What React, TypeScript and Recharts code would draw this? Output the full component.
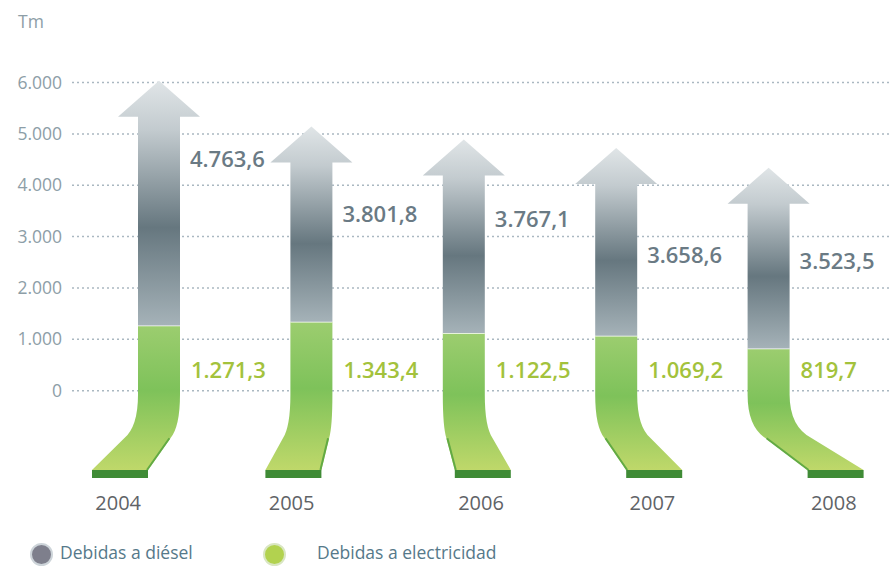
import { ComposedChart, Bar, XAxis, YAxis, CartesianGrid, LabelList } from "recharts";

const years = ["2004", "2005", "2006", "2007", "2008"];
const diesel = [4763.6, 3801.8, 3767.1, 3658.6, 3523.5];
const electricity = [1271.3, 1343.4, 1122.5, 1069.2, 819.7];
const yTicks = [0, 1000, 2000, 3000, 4000, 5000, 6000];
const yFloor = -1700;
const yCeil = 6400;

// decorative: how far each green tail bends away from its column (px)
const tailShift = [-39, -18, 19, 38, 67];
// decorative: nudges for the diesel value labels (px)
const dieselLabelNudge = [-32, 0, -8, 23, 12];

const data = years.map((year, i) => ({
  year,
  electricity: electricity[i],
  diesel: diesel[i],
}));

const FONT = "'Open Sans', sans-serif";

const fmt = (v: number, decimals = 0) => {
  const [int, dec] = v.toFixed(decimals).split(".");
  const dotted = int.replace(/\B(?=(\d{3})+(?!\d))/g, ".");
  return dec ? `${dotted},${dec}` : dotted;
};

function edgePath(edgeX: number, baseX: number, y0: number, yEnd: number) {
  const d = yEnd - y0;
  const dx = baseX - edgeX;
  return {
    p1: [edgeX, y0 + 0.05 * d],
    ctl: [edgeX, y0 + 0.45 * d],
    mid: [edgeX + 0.3 * dx, y0 + 0.6 * d],
    end: [baseX, yEnd],
  };
}

function ElectricityShape(props: any) {
  const { x, y, width, height, index } = props;
  const pxPerUnit = height / electricity[index];
  const y0 = y + height;
  const yBottom = y0 - yFloor * pxPerUnit;
  const strip = 8;
  const baseW = width + 14;
  const s = tailShift[index];
  const cx = x + width / 2 + s;
  const bl = cx - baseW / 2;
  const br = cx + baseW / 2;
  const yEnd = yBottom - strip;

  const R = edgePath(x + width, br, y0, yEnd);
  const L = edgePath(x, bl, y0, yEnd);
  const body =
    `M${x},${y} L${x + width},${y} L${R.p1[0]},${R.p1[1]} ` +
    `Q${R.ctl[0]},${R.ctl[1]} ${R.mid[0]},${R.mid[1]} L${R.end[0]},${R.end[1]} ` +
    `L${L.end[0]},${L.end[1]} L${L.mid[0]},${L.mid[1]} ` +
    `Q${L.ctl[0]},${L.ctl[1]} ${L.p1[0]},${L.p1[1]} Z`;
  const T = s < 0 ? R : L;
  const inset = s < 0 ? -1 : 1;
  const edge = `M${T.mid[0] + inset},${T.mid[1]} L${T.end[0] + inset},${T.end[1]}`;

  return (
    <g>
      <path d={body} fill="url(#elecFill)" />
      <path d={edge} fill="none" stroke="#62aa44" strokeWidth={2} />
      <rect x={bl} y={yEnd} width={baseW} height={strip} fill="#3f8b36" />
      <line x1={x} x2={x + width} y1={y} y2={y} stroke="#ffffff" strokeWidth={1.5} />
    </g>
  );
}

function DieselShape(props: any) {
  const { x, y, width, height } = props;
  const head = 36;
  const wing = 20;
  const cx = x + width / 2;
  const d =
    `M${cx},${y} L${x + width + wing},${y + head} L${x + width},${y + head} ` +
    `L${x + width},${y + height} L${x},${y + height} L${x},${y + head} L${x - wing},${y + head} Z`;
  return <path d={d} fill="url(#dieselFill)" />;
}

function DieselLabel(props: any) {
  const { x, y, width, height, value, index } = props;
  return (
    <text
      x={x + width + 10}
      y={y + height * 0.45 + dieselLabelNudge[index]}
      dy={8}
      fontSize={22}
      fontWeight={600}
      fill="#6a7a84"
      fontFamily={FONT}
    >
      {fmt(value, 1)}
    </text>
  );
}

function ElecLabel(props: any) {
  const { x, y, width, height, value } = props;
  return (
    <text x={x + width + 11} y={y + height - 21} dy={8} fontSize={22} fontWeight={600} fill="#a3c23c" fontFamily={FONT}>
      {fmt(value, 1)}
    </text>
  );
}

function YearTick(props: any) {
  const { x, y, payload, index } = props;
  return (
    <text x={x + tailShift[index] - 2} y={y + 24} textAnchor="middle" fontSize={20} fill="#5f6367" fontFamily={FONT}>
      {payload.value}
    </text>
  );
}

function ValueTick(props: any) {
  const { y, payload } = props;
  return (
    <text x={62} y={y} dy={6} textAnchor="end" fontSize={17.5} fill="#8d9ea7" fontFamily={FONT}>
      {fmt(payload.value)}
    </text>
  );
}

export default function App() {
  return (
    <div style={{ position: "absolute", left: 0, top: 0, width: 896, height: 567, background: "#fff", fontFamily: FONT }}>
      <div style={{ position: "absolute", left: 18, top: 9, fontSize: 17.5, color: "#8d9ea7" }}>Tm</div>
      <ComposedChart width={896} height={567} data={data} margin={{ top: 62, right: 6, bottom: 0, left: 0 }}>
        <defs>
          <linearGradient id="dieselFill" x1="0" y1="0" x2="0" y2="1">
            <stop offset="0%" stopColor="#e0e5e7" />
            <stop offset="20%" stopColor="#c3cbcf" />
            <stop offset="60%" stopColor="#66777f" />
            <stop offset="100%" stopColor="#a5b2b8" />
          </linearGradient>
          <linearGradient id="elecFill" x1="0" y1="0" x2="0" y2="1">
            <stop offset="0%" stopColor="#9ccd6f" />
            <stop offset="45%" stopColor="#7ec25a" />
            <stop offset="100%" stopColor="#bfd86a" />
          </linearGradient>
        </defs>
        <CartesianGrid
          vertical={false}
          horizontalValues={yTicks}
          stroke="#aab8c1"
          strokeWidth={1.5}
          strokeDasharray="2 3"
        />
        <XAxis
          dataKey="year"
          height={89}
          axisLine={false}
          tickLine={false}
          padding={{ left: 11, right: 45 }}
          tick={<YearTick />}
          interval={0}
        />
        <YAxis
          width={72}
          domain={[yFloor, yCeil]}
          ticks={yTicks}
          axisLine={false}
          tickLine={false}
          tick={<ValueTick />}
        />
        <Bar dataKey="electricity" stackId="a" barSize={42} shape={<ElectricityShape />} isAnimationActive={false}>
          <LabelList dataKey="electricity" content={<ElecLabel />} />
        </Bar>
        <Bar dataKey="diesel" stackId="a" barSize={42} shape={<DieselShape />} isAnimationActive={false}>
          <LabelList dataKey="diesel" content={<DieselLabel />} />
        </Bar>
      </ComposedChart>
      <div style={{ position: "absolute", left: 30, top: 543, width: 19, height: 19, borderRadius: "50%", background: "#7e7f8c", border: "2px solid #cdd4d9" }} />
      <div style={{ position: "absolute", left: 60, top: 540, fontSize: 17.5, color: "#56798a" }}>Debidas a diésel</div>
      <div style={{ position: "absolute", left: 263, top: 543, width: 19, height: 19, borderRadius: "50%", background: "#b2d24f", border: "2px solid #d9e6c2" }} />
      <div style={{ position: "absolute", left: 317, top: 540, fontSize: 17.5, color: "#56798a" }}>Debidas a electricidad</div>
    </div>
  );
}
